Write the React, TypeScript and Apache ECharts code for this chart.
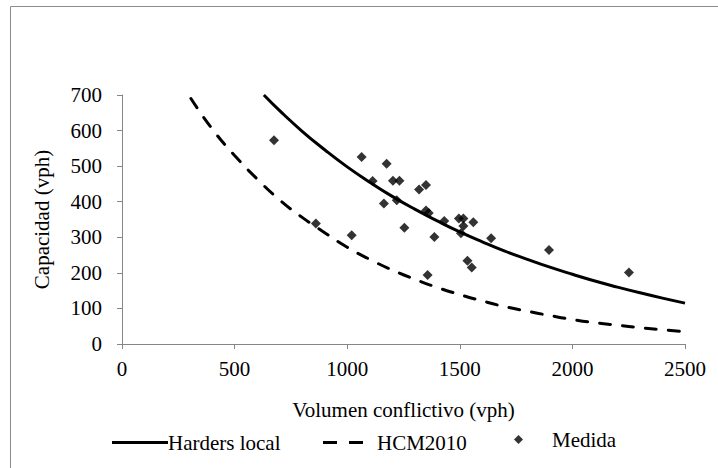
import React, { useEffect, useRef } from "react";
import * as echarts from "echarts";

const xTicks = [0, 500, 1000, 1500, 2000, 2500];
const yTicks = [0, 100, 200, 300, 400, 500, 600, 700];

const hardersX = [630, 700, 800, 900, 1000, 1100, 1200, 1300, 1400, 1500, 1600, 1700, 1800, 1900, 2000, 2100, 2200, 2300, 2400, 2500];
const hardersY = [700, 656, 598, 546, 498, 455, 415, 379, 346, 315, 287, 261, 238, 216, 196, 177, 160, 144, 129, 115];

const hcmX = [306, 400, 500, 600, 700, 800, 900, 1000, 1100, 1200, 1300, 1400, 1500, 1600, 1700, 1800, 1900, 2000, 2100, 2200, 2300, 2400, 2500];
const hcmY = [690, 605, 530, 464, 405, 356, 313, 272, 238, 208, 182, 159, 139, 121, 105, 92, 80, 69, 60, 53, 46, 40, 35];

const medidaX = [675, 1064, 1175, 1113, 1203, 1232, 1319, 1350, 1163, 1220, 1350, 1362, 1254, 1431, 1387, 1496, 1516, 1516, 1560, 1505, 1639, 1534, 1553, 1357, 861, 1020, 1896, 2251];
const medidaY = [573, 526, 507, 458, 459, 459, 434, 447, 395, 404, 375, 368, 327, 346, 301, 353, 353, 332, 342, 311, 297, 234, 215, 194, 339, 306, 264, 201];

const FONT = "'Liberation Serif', 'Times New Roman', serif";

export default function App() {
  const ref = useRef<HTMLDivElement>(null);
  useEffect(() => {
    if (!ref.current) return;
    const chart = echarts.init(ref.current, undefined, { renderer: "svg" });
    const axisColor = "#868686";
    const textStyle = { fontFamily: FONT, fontSize: 21, color: "#000" };
    chart.setOption({
      animation: false,
      backgroundColor: "#fff",
      textStyle: { fontFamily: FONT },
      grid: { left: 122, right: 33, top: 95, bottom: 124 },
      graphic: [
        {
          type: "line",
          shape: { x1: 10.5, y1: 6.5, x2: 718, y2: 6.5 },
          style: { stroke: "#8c8c8c", lineWidth: 1 },
          silent: true,
        },
        {
          type: "line",
          shape: { x1: 10.5, y1: 6.5, x2: 10.5, y2: 468 },
          style: { stroke: "#8c8c8c", lineWidth: 1 },
          silent: true,
        },
      ],
      xAxis: {
        type: "value",
        min: xTicks[0],
        max: xTicks[xTicks.length - 1],
        interval: 500,
        name: "Volumen conflictivo (vph)",
        nameLocation: "middle",
        nameGap: 55,
        nameTextStyle: textStyle,
        axisLine: { show: true, lineStyle: { color: axisColor, width: 1 } },
        axisTick: { show: true, inside: false, length: 5, lineStyle: { color: axisColor } },
        axisLabel: { ...textStyle, margin: 14, formatter: (v: number) => String(v) },
        splitLine: { show: false },
      },
      yAxis: {
        type: "value",
        min: yTicks[0],
        max: yTicks[yTicks.length - 1],
        interval: 100,
        name: "Capacidad (vph)",
        nameLocation: "middle",
        nameGap: 70,
        nameTextStyle: textStyle,
        axisLine: { show: true, lineStyle: { color: axisColor, width: 1 } },
        axisTick: { show: true, inside: false, length: 5, lineStyle: { color: axisColor } },
        axisLabel: { ...textStyle, margin: 20, formatter: (v: number) => String(v) },
        splitLine: { show: false },
      },
      legend: [
        {
          data: [{ name: "Harders local", icon: "rect" }],
          left: 112,
          top: 432,
          itemWidth: 56,
          itemHeight: 3,
          padding: 0,
          textStyle: { ...textStyle, padding: [0, 0, 0, -5] },
        },
        {
          data: [{ name: "HCM2010", icon: "path://M0,0h14v3h-14z M26,0h14v3h-14z" }],
          left: 323,
          top: 432,
          itemWidth: 42,
          itemHeight: 3,
          padding: 0,
          textStyle: { ...textStyle, padding: [0, 0, 0, 8] },
        },
        {
          data: [{ name: "Medida", icon: "diamond" }],
          left: 514,
          top: 429,
          itemWidth: 9,
          itemHeight: 9,
          padding: 0,
          textStyle: { ...textStyle, padding: [0, 0, 0, 24] },
        },
      ],
      series: [
        {
          name: "Harders local",
          type: "line",
          smooth: 0.5,
          symbol: "none",
          lineStyle: { color: "#000", width: 3 },
          itemStyle: { color: "#000" },
          data: hardersX.map((x, i) => [x, hardersY[i]]),
        },
        {
          name: "HCM2010",
          type: "line",
          smooth: 0.5,
          symbol: "none",
          lineStyle: { color: "#000", width: 3, type: [11, 12], cap: "round" },
          itemStyle: { color: "#000" },
          data: hcmX.map((x, i) => [x, hcmY[i]]),
        },
        {
          name: "Medida",
          type: "scatter",
          symbol: "diamond",
          symbolSize: 10,
          itemStyle: { color: "#000" },
          data: medidaX.map((x, i) => [x, medidaY[i]]),
        },
      ],
    });
    return () => chart.dispose();
  }, []);
  return (
    <div
      ref={ref}
      style={{ position: "absolute", left: 0, top: 0, width: 718, height: 468, background: "#fff" }}
    />
  );
}
